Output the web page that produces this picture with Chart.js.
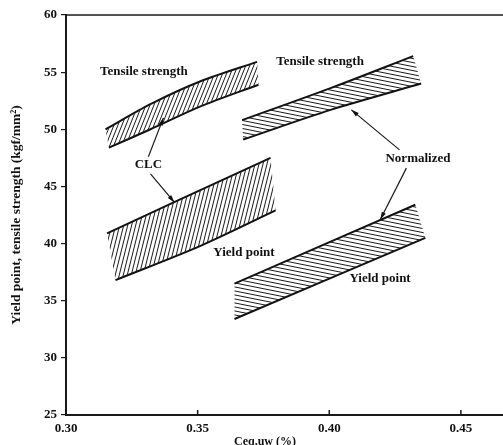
<!DOCTYPE html>
<html>
<head>
<meta charset="utf-8">
<script src="https://cdn.jsdelivr.net/npm/chart.js@4.4.0/dist/chart.umd.min.js"></script>
<style>
  html, body { margin: 0; padding: 0; background: #fff; }
</style>
</head>
<body>
<canvas id="chart" width="503" height="445"></canvas>
<script>
// tick labels
const xTicks = [0.30, 0.35, 0.40, 0.45];
const yTicks = [25, 30, 35, 40, 45, 50, 55, 60];

// CLC, tensile strength band (upper / lower edge)
const clcTensileUpperX = [0.3150, 0.3321, 0.3511, 0.3726];
const clcTensileUpperY = [50.0, 52.2, 54.2, 55.9];
const clcTensileLowerX = [0.3163, 0.3321, 0.3511, 0.3731];
const clcTensileLowerY = [48.4, 50.0, 52.0, 53.9];

// CLC, yield point band
const clcYieldUpperX = [0.3156, 0.3409, 0.3777];
const clcYieldUpperY = [40.9, 43.6, 47.5];
const clcYieldLowerX = [0.3188, 0.3511, 0.3796];
const clcYieldLowerY = [36.8, 39.8, 42.9];

// Normalized, tensile strength band
const normTensileUpperX = [0.3669, 0.4005, 0.4319];
const normTensileUpperY = [50.8, 53.6, 56.4];
const normTensileLowerX = [0.3673, 0.4005, 0.4349];
const normTensileLowerY = [49.1, 51.7, 54.0];

// Normalized, yield point band
const normYieldUpperX = [0.3640, 0.4327];
const normYieldUpperY = [36.5, 43.4];
const normYieldLowerX = [0.3640, 0.4365];
const normYieldLowerY = [33.4, 40.5];

// text labels and arrows
const labelText = ['Tensile strength', 'Tensile strength', 'CLC', 'Normalized', 'Yield point', 'Yield point'];
const labelX = [0.3296, 0.3965, 0.3313, 0.4337, 0.3676, 0.4193];
const labelY = [55.05, 55.9, 46.95, 47.4, 39.2, 36.9];
const arrowTails = [[0.3313, 47.6], [0.3321, 46.1], [0.4267, 48.2], [0.4293, 46.6]];
const arrowHeads = [[0.3370, 51.0], [0.3412, 43.6], [0.4084, 51.7], [0.4194, 42.1]];

const canvas = document.getElementById('chart');
const ctx = canvas.getContext('2d');

function makeHatch(w, h, steep) {
  const c = document.createElement('canvas');
  c.width = w; c.height = h;
  const p = c.getContext('2d');
  p.strokeStyle = '#1a1a1a';
  p.lineWidth = 1;
  for (let k = -1; k <= 1; k++) {
    p.beginPath();
    if (steep) { p.moveTo(k * w, h); p.lineTo(k * w + w, 0); }
    else { p.moveTo(0, k * h); p.lineTo(w, k * h + h); }
    p.stroke();
  }
  return ctx.createPattern(c, 'repeat');
}

const hatchClcTensile = makeHatch(4, 10, true);
const hatchClcYield = makeHatch(4, 16, true);
const hatchNorm = makeHatch(20, 4, false);

function pts(xs, ys) {
  return xs.map((x, i) => ({ x: x, y: ys[i] }));
}

function band(ux, uy, lx, ly, pattern) {
  const shape = pts(ux, uy).concat(pts(lx, ly).reverse());
  return [
    { data: shape, showLine: true, fill: 'shape', backgroundColor: pattern,
      borderColor: 'transparent', borderWidth: 1, pointRadius: 0, tension: 0 },
    { data: pts(ux, uy), showLine: true, fill: false, borderColor: '#111',
      borderWidth: 2, pointRadius: 0, tension: 0.3 },
    { data: pts(lx, ly), showLine: true, fill: false, borderColor: '#111',
      borderWidth: 2, pointRadius: 0, tension: 0.3 }
  ];
}

const datasets = [].concat(
  band(clcTensileUpperX, clcTensileUpperY, clcTensileLowerX, clcTensileLowerY, hatchClcTensile),
  band(clcYieldUpperX, clcYieldUpperY, clcYieldLowerX, clcYieldLowerY, hatchClcYield),
  band(normTensileUpperX, normTensileUpperY, normTensileLowerX, normTensileLowerY, hatchNorm),
  band(normYieldUpperX, normYieldUpperY, normYieldLowerX, normYieldLowerY, hatchNorm)
);

const serif = '"Liberation Serif", "DejaVu Serif", serif';

const decor = {
  id: 'decor',
  afterDatasetsDraw(chart) {
    const c = chart.ctx;
    const xs = chart.scales.x, ys = chart.scales.y;
    const area = chart.chartArea;
    c.save();
    c.strokeStyle = '#1a1a1a';
    c.fillStyle = '#111';

    // top frame line
    c.lineWidth = 1.5;
    c.beginPath();
    c.moveTo(area.left, area.top);
    c.lineTo(area.right, area.top);
    c.stroke();

    // x ticks point into the plot
    xTicks.forEach(v => {
      const px = xs.getPixelForValue(v);
      c.beginPath();
      c.moveTo(px, area.bottom);
      c.lineTo(px, area.bottom - 5);
      c.stroke();
    });

    // arrows
    c.lineWidth = 1.2;
    arrowTails.forEach((t, i) => {
      const x1 = xs.getPixelForValue(t[0]), y1 = ys.getPixelForValue(t[1]);
      const x2 = xs.getPixelForValue(arrowHeads[i][0]), y2 = ys.getPixelForValue(arrowHeads[i][1]);
      const a = Math.atan2(y2 - y1, x2 - x1);
      c.beginPath();
      c.moveTo(x1, y1);
      c.lineTo(x2, y2);
      c.stroke();
      c.beginPath();
      c.moveTo(x2, y2);
      c.lineTo(x2 - 8 * Math.cos(a - 0.28), y2 - 8 * Math.sin(a - 0.28));
      c.lineTo(x2 - 8 * Math.cos(a + 0.28), y2 - 8 * Math.sin(a + 0.28));
      c.closePath();
      c.fill();
    });

    // band labels
    c.font = 'bold 13px ' + serif;
    c.textAlign = 'center';
    c.textBaseline = 'middle';
    labelText.forEach((s, i) => {
      c.fillText(s, xs.getPixelForValue(labelX[i]), ys.getPixelForValue(labelY[i]));
    });

    // axis titles
    c.font = 'bold 12px ' + serif;
    c.textBaseline = 'top';
    c.fillText('Ceq.uw (%)', 265, 436);
    c.font = 'bold 13.5px ' + serif;
    c.translate(17, 215);
    c.rotate(-Math.PI / 2);
    c.textBaseline = 'middle';
    c.fillText('Yield point, tensile strength (kgf/mm²)', 0, 0);
    c.restore();
  }
};

new Chart(ctx, {
  type: 'scatter',
  data: { datasets: datasets },
  options: {
    responsive: false,
    animation: false,
    layout: { padding: { top: 15, right: 0, left: 0, bottom: 0 } },
    plugins: { legend: { display: false }, tooltip: { enabled: false } },
    scales: {
      x: {
        type: 'linear', min: 0.30, max: 0.466,
        afterBuildTicks: s => { s.ticks = xTicks.map(v => ({ value: v })); },
        afterFit: s => { s.height = 30; },
        grid: { drawOnChartArea: false, drawTicks: false },
        border: { color: '#1a1a1a', width: 2 },
        ticks: {
          padding: 6, color: '#111', maxRotation: 0, autoSkip: false,
          font: { family: serif, size: 13, weight: 'bold' },
          callback: v => v.toFixed(2)
        }
      },
      y: {
        min: 25, max: 60,
        afterBuildTicks: s => { s.ticks = yTicks.map(v => ({ value: v })); },
        afterFit: s => { s.width = 66; },
        grid: { drawOnChartArea: false, tickLength: 5, color: '#1a1a1a', lineWidth: 1.2 },
        border: { color: '#1a1a1a', width: 2 },
        ticks: {
          padding: 4, color: '#111',
          font: { family: serif, size: 13, weight: 'bold' }
        }
      }
    }
  },
  plugins: [decor]
});
</script>
</body>
</html>
